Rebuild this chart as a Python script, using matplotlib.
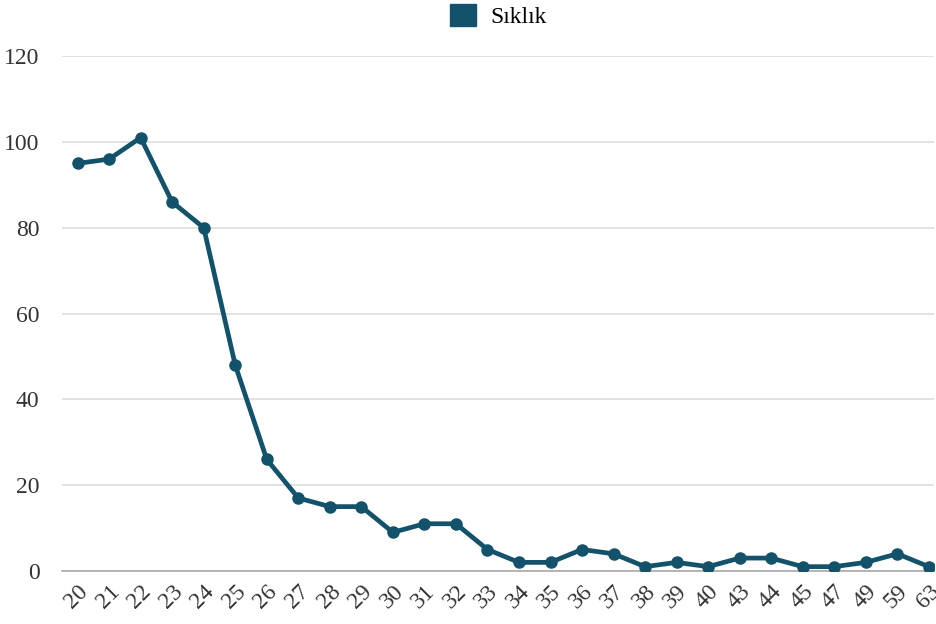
import matplotlib.pyplot as plt
from matplotlib.patches import Patch

# age categories and frequency ("Sıklık")
ages = ['20', '21', '22', '23', '24', '25', '26', '27', '28', '29', '30', '31', '32', '33',
        '34', '35', '36', '37', '38', '39', '40', '43', '44', '45', '47', '49', '59', '63']
counts = [95, 96, 101, 86, 80, 48, 26, 17, 15, 15, 9, 11, 11, 5,
          2, 2, 5, 4, 1, 2, 1, 3, 3, 1, 1, 2, 4, 1]
yticks = [0, 20, 40, 60, 80, 100, 120]

color = '#12526b'
plt.rcParams['font.family'] = ['Liberation Serif', 'DejaVu Serif']

fig = plt.figure(figsize=(9.37, 6.24), dpi=100)
ax = fig.add_axes([0.066, 0.085, 0.931, 0.825])

x = list(range(len(ages)))
ax.plot(x, counts, color=color, lw=3.4, marker='o', ms=8, solid_joinstyle='round', zorder=3)

ax.set_xlim(-0.5, len(ages) - 1 + 0.17)
ax.set_ylim(0, 120)
ax.set_yticks(yticks)
ax.set_xticks(x)
ax.set_xticklabels(ages, rotation=45, ha='right', rotation_mode='anchor')
ax.tick_params(axis='both', length=0, labelsize=17, colors='#333333')
ax.tick_params(axis='x', pad=7)
ax.tick_params(axis='y', pad=16)

ax.grid(axis='y', color='#dddddd', lw=1.2)
ax.set_axisbelow(True)
for s in ['top', 'right', 'left']:
    ax.spines[s].set_visible(False)
ax.spines['bottom'].set_color('#aaaaaa')
ax.spines['bottom'].set_linewidth(1.2)

handle = Patch(facecolor=color, edgecolor=color)
fig.legend([handle], ['Sıklık'], loc='upper center', bbox_to_anchor=(0.532, 1.028),
           frameon=False, fontsize=17, handlelength=1.1, handleheight=1.1,
           handletextpad=0.6)

fig.savefig('out.png', dpi=100)
